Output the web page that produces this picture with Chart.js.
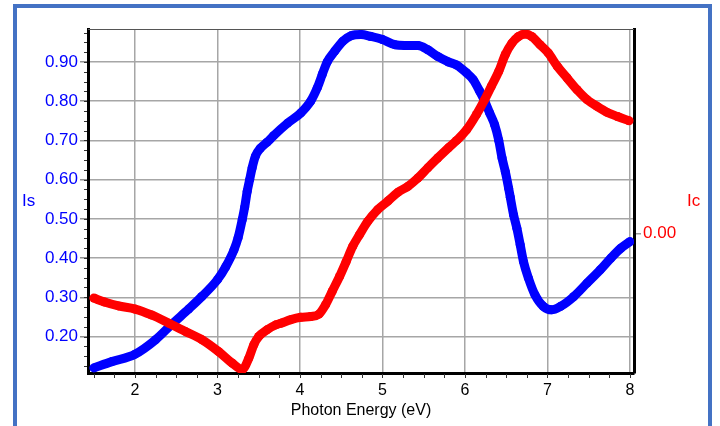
<!DOCTYPE html>
<html><head><meta charset="utf-8">
<script src="https://cdn.jsdelivr.net/npm/chart.js@4"></script>
<style>
html,body{margin:0;padding:0;background:#fff;}
#wrap{position:relative;width:720px;height:426px;overflow:hidden;background:#fff;}
#frame{position:absolute;left:13px;top:4px;width:691px;height:440px;border:4px solid #4472C4;border-bottom:none;}
canvas{position:absolute;left:0;top:0;}
</style></head><body>
<div id="wrap"><div id="frame"></div><canvas id="c" width="720" height="426"></canvas></div>
<script>
// ---- data ----
const energyIs = [1.50,1.72,2.00,2.25,2.45,2.65,2.81,3.00,3.10,3.20,3.25,3.30,3.33,3.36,3.39,3.42,3.46,3.52,3.60,3.68,3.85,4.01,4.13,4.21,4.27,4.33,4.42,4.52,4.62,4.74,4.86,5.00,5.15,5.27,5.43,5.55,5.67,5.80,5.90,6.02,6.10,6.18,6.24,6.30,6.36,6.41,6.45,6.49,6.53,6.55,6.59,6.63,6.67,6.71,6.77,6.85,6.95,7.05,7.16,7.32,7.48,7.64,7.77,7.89,8.00];
const valuesIs = [0.120,0.136,0.155,0.192,0.232,0.270,0.302,0.345,0.378,0.421,0.452,0.498,0.530,0.570,0.600,0.630,0.660,0.680,0.695,0.712,0.744,0.770,0.800,0.834,0.868,0.900,0.927,0.953,0.967,0.970,0.965,0.957,0.944,0.942,0.942,0.931,0.914,0.900,0.892,0.872,0.855,0.825,0.800,0.770,0.740,0.700,0.655,0.620,0.578,0.555,0.510,0.476,0.434,0.391,0.349,0.306,0.277,0.268,0.277,0.302,0.336,0.370,0.400,0.425,0.442];

const energyIc = [1.50,1.63,1.80,2.00,2.20,2.41,2.61,2.81,3.01,3.18,3.30,3.38,3.44,3.50,3.60,3.71,3.77,3.89,4.01,4.13,4.23,4.31,4.39,4.48,4.56,4.64,4.72,4.82,4.94,5.07,5.19,5.31,5.43,5.55,5.67,5.80,5.90,6.02,6.14,6.24,6.32,6.41,6.49,6.57,6.65,6.73,6.81,6.91,7.01,7.12,7.24,7.36,7.48,7.60,7.72,7.85,7.99];
const valuesIc = [0.298,0.288,0.278,0.270,0.255,0.234,0.213,0.192,0.162,0.132,0.116,0.145,0.179,0.200,0.217,0.230,0.234,0.243,0.249,0.251,0.257,0.281,0.315,0.353,0.391,0.430,0.459,0.493,0.523,0.546,0.568,0.583,0.604,0.630,0.655,0.681,0.700,0.727,0.766,0.804,0.838,0.876,0.919,0.948,0.965,0.971,0.965,0.944,0.923,0.889,0.859,0.829,0.804,0.787,0.772,0.761,0.750];

const xTickLabels = [2,3,4,5,6,7,8];
const yTickLabels = [0.20,0.30,0.40,0.50,0.60,0.70,0.80,0.90];
const y2TickLabels = [0.00];
const xTitle = 'Photon Energy (eV)';
const leftLabel = 'Is';
const rightLabel = 'Ic';

const FONT = 'Liberation Sans, Arial, sans-serif';
const BLUE = '#0000FF', RED = '#FF0000';

const toPts = (xs, ys) => xs.map((x, i) => ({x, y: ys[i]}));

const extras = {
  id: 'extras',
  afterDraw(chart) {
    const {ctx, chartArea: ca, scales: {x, y}} = chart;
    ctx.save();
    // top frame line
    ctx.strokeStyle = '#555'; ctx.lineWidth = 1;
    ctx.beginPath(); ctx.moveTo(ca.left, ca.top + 0.5); ctx.lineTo(ca.right, ca.top + 0.5); ctx.stroke();
    // minor ticks x
    ctx.strokeStyle = '#333';
    for (let v = 1.5; v <= 8.001; v += 0.25) {
      const px = Math.round(x.getPixelForValue(v)) + 0.5;
      ctx.beginPath(); ctx.moveTo(px, ca.bottom + 1); ctx.lineTo(px, ca.bottom + 5); ctx.stroke();
    }
    // minor ticks y
    for (let v = 0.125; v <= 0.976; v += 0.025) {
      const py = Math.round(y.getPixelForValue(v)) + 0.5;
      ctx.beginPath(); ctx.moveTo(ca.left - 4, py); ctx.lineTo(ca.left - 1, py); ctx.stroke();
    }
    // side labels
    ctx.font = '17px ' + FONT; ctx.textBaseline = 'middle'; ctx.textAlign = 'left';
    ctx.fillStyle = BLUE; ctx.fillText(leftLabel, 22, 201);
    ctx.fillStyle = RED; ctx.fillText(rightLabel, 687, 201);
    ctx.restore();
  }
};

new Chart(document.getElementById('c'), {
  type: 'scatter',
  data: {
    datasets: [
      { label: 'Ic', data: toPts(energyIc, valuesIc), yAxisID: 'y', order: 0,
        showLine: true, borderColor: RED, borderWidth: 9, cubicInterpolationMode: 'monotone',
        pointRadius: 4.5, pointBackgroundColor: RED, pointBorderWidth: 0, pointHoverRadius: 4.5 },
      { label: 'Is', data: toPts(energyIs, valuesIs), yAxisID: 'y', order: 1,
        showLine: true, borderColor: BLUE, borderWidth: 9, cubicInterpolationMode: 'monotone',
        pointRadius: 4.5, pointBackgroundColor: BLUE, pointBorderWidth: 0, pointHoverRadius: 4.5 }
    ]
  },
  options: {
    responsive: false, animation: false, devicePixelRatio: 1,
    layout: { padding: { top: 29, left: 0, right: 0, bottom: 0 } },
    plugins: { legend: { display: false }, tooltip: { enabled: false } },
    scales: {
      x: {
        type: 'linear', position: 'bottom', min: 1.43, max: 8.05,
        afterBuildTicks: s => { s.ticks = xTickLabels.map(v => ({value: v})); },
        afterFit: s => { s.height = 53; },
        ticks: { color: '#000', font: { family: FONT, size: 16 }, padding: 8, callback: v => String(v), maxRotation: 0 },
        grid: { color: '#a6a6a6', lineWidth: 1.5, drawTicks: false },
        border: { color: '#000', width: 3 },
        title: { display: true, text: xTitle, color: '#000', font: { family: FONT, size: 16 }, padding: { top: 0, bottom: 6 } }
      },
      y: {
        type: 'linear', position: 'left', min: 0.107, max: 0.984,
        afterBuildTicks: s => { s.ticks = yTickLabels.map(v => ({value: v})); },
        afterFit: s => { s.width = 88; },
        ticks: { color: BLUE, font: { family: FONT, size: 17 }, padding: 2, callback: v => Number(v).toFixed(2) },
        grid: { color: '#a6a6a6', lineWidth: 1.5, tickLength: 8, tickColor: '#909090' },
        border: { color: '#000', width: 3 }
      },
      y2: {
        type: 'linear', position: 'right', min: -0.4055, max: 0.5945,
        afterBuildTicks: s => { s.ticks = y2TickLabels.map(v => ({value: v})); },
        afterFit: s => { s.width = 86; },
        ticks: { color: RED, font: { family: FONT, size: 17 }, padding: 2, callback: v => Number(v).toFixed(2) },
        grid: { drawOnChartArea: false, tickLength: 7, tickColor: '#999', lineWidth: 1.5 },
        border: { color: '#000', width: 3 }
      }
    }
  },
  plugins: [extras]
});
</script>
</body></html>
